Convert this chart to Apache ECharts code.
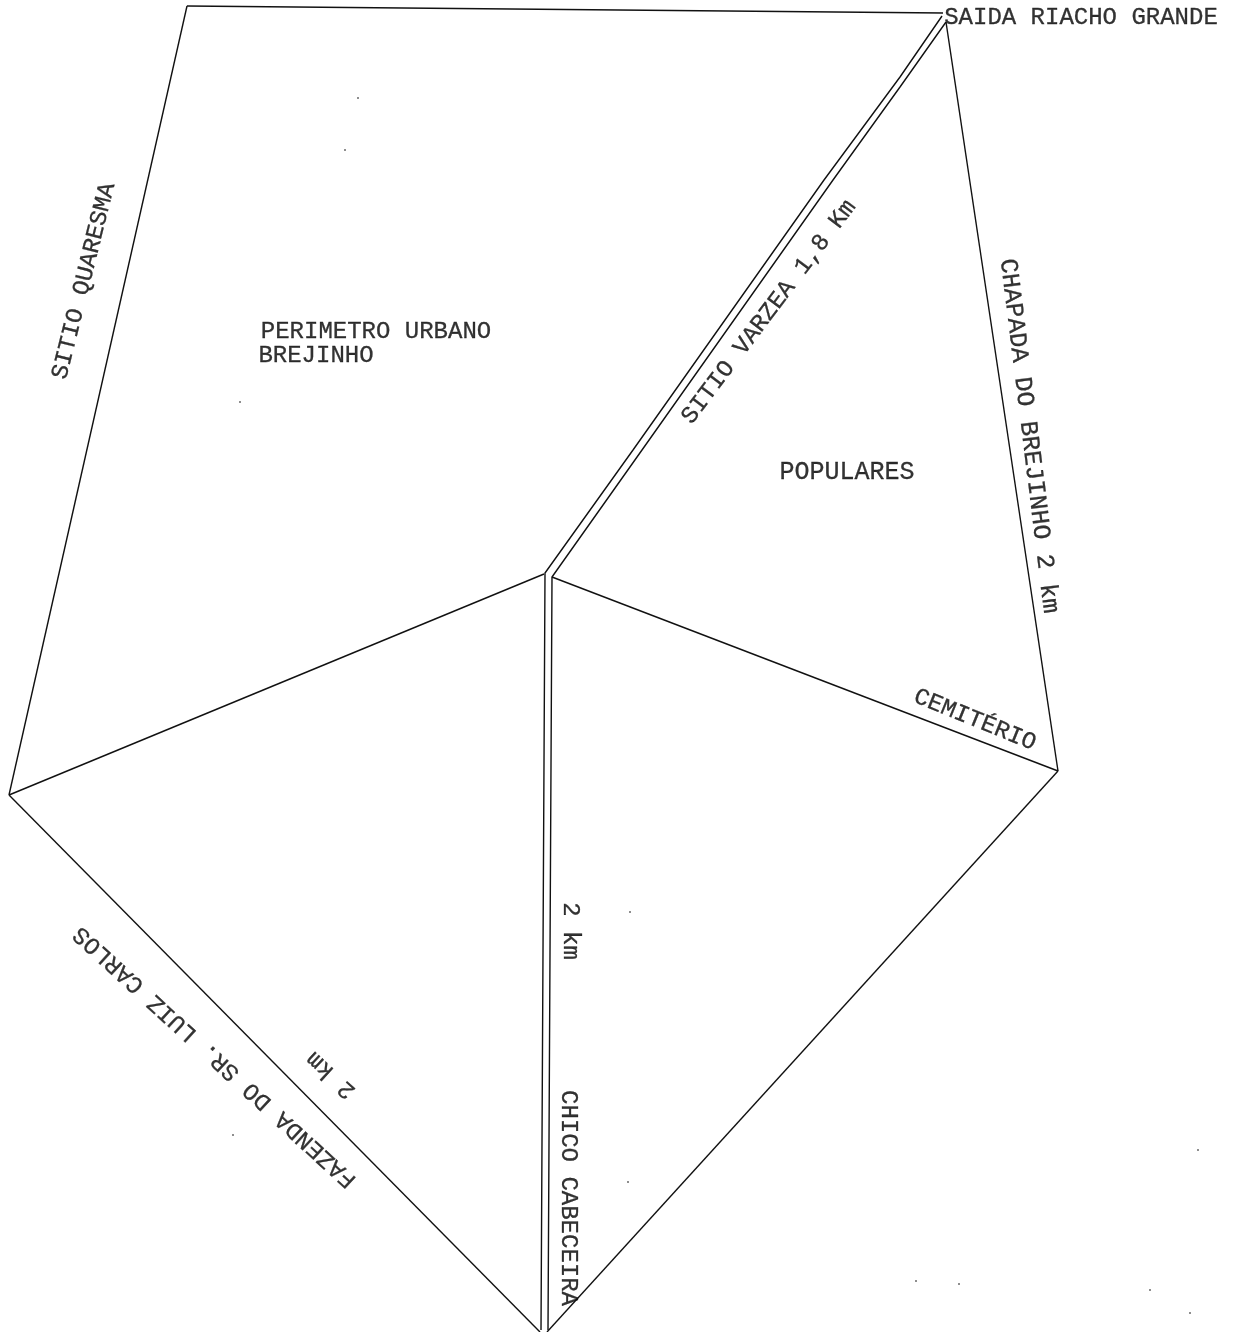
<!DOCTYPE html>
<html><head><meta charset="utf-8">
<script src="https://cdn.jsdelivr.net/npm/echarts@6/dist/echarts.min.js"></script>
<style>html,body{margin:0;padding:0;background:#fff}#c{width:1234px;height:1332px}</style></head>
<body><div id="c"></div>
<script>
// Map coordinates (x to the right, y downward)
const boundaryTop = [[187,6],[943,13]];
const boundaryWest = [[187,6],[9,795]];
const boundarySouthWest = [[9,795],[540,1332]];
const divideWest = [[9,795],[544,574]];
const boundaryEast = [[946,22],[1058,771]];
const boundarySouthEast = [[1058,771],[547,1332]];
const divideEast = [[552,577],[1058,771]];
const roadLeft = [[942,16],[900,77],[824,180],[633,450],[545,573],[541,1330]];
const roadRight = [[946,22],[900,87],[833,180],[642,450],[552,577],[548,1330]];
const strokes = [boundaryTop,boundaryWest,boundarySouthWest,divideWest,boundaryEast,boundarySouthEast,divideEast,roadLeft,roadRight];

const labelTexts = ['SAIDA RIACHO GRANDE','SITIO QUARESMA','PERIMETRO URBANO','BREJINHO','SITIO VARZEA 1,8 Km','CHAPADA DO BREJINHO 2 km','POPULARES','CEMITÉRIO','2 km','CHICO CABECEIRA','FAZENDA DO SR. LUIZ CARLOS','2 km'];
const labelX = [1081,84,376,316,769,1029,847,975,570,568,215,331];
const labelY = [18,281,332,356,312,436,472,720,931,1198,1057,1075];
const labelAngle = [0,76,0,0,53,-83,0,-22,-90,-90,137.5,137.5];
const labelFontPx = [24,24,24,24,24,24.8,25,24,24,24,24,24];
const specks = [[916,1281],[959,1284],[1150,1290],[1190,1313],[1198,1150],[240,402],[345,150],[358,98],[630,912],[628,1182],[233,1135]];

const series = strokes.map(s => ({
  type:'line', data:s, symbol:'none', silent:true, clip:false,
  lineStyle:{color:'#111',width:1.4}
}));
series.push({
  type:'scatter', silent:true, symbolSize:0,
  data:labelTexts.map((t,i)=>({
    value:[labelX[i],labelY[i]],
    label:{show:true,position:'inside',formatter:t,rotate:labelAngle[i],
      fontFamily:'Liberation Mono',fontSize:labelFontPx[i],color:'#000',align:'center',verticalAlign:'middle',
      textBorderColor:'#000',textBorderWidth:0.3}
  }))
});
series.push({type:'scatter',silent:true,symbolSize:2,data:specks,itemStyle:{color:'#444'}});

const chart = echarts.init(document.getElementById('c'),null,{renderer:'canvas'});
chart.setOption({
  animation:false, backgroundColor:'#fff',
  grid:{left:0,right:0,top:0,bottom:0},
  xAxis:{type:'value',min:0,max:1234,show:false},
  yAxis:{type:'value',min:0,max:1332,inverse:true,show:false},
  series
});
</script></body></html>
